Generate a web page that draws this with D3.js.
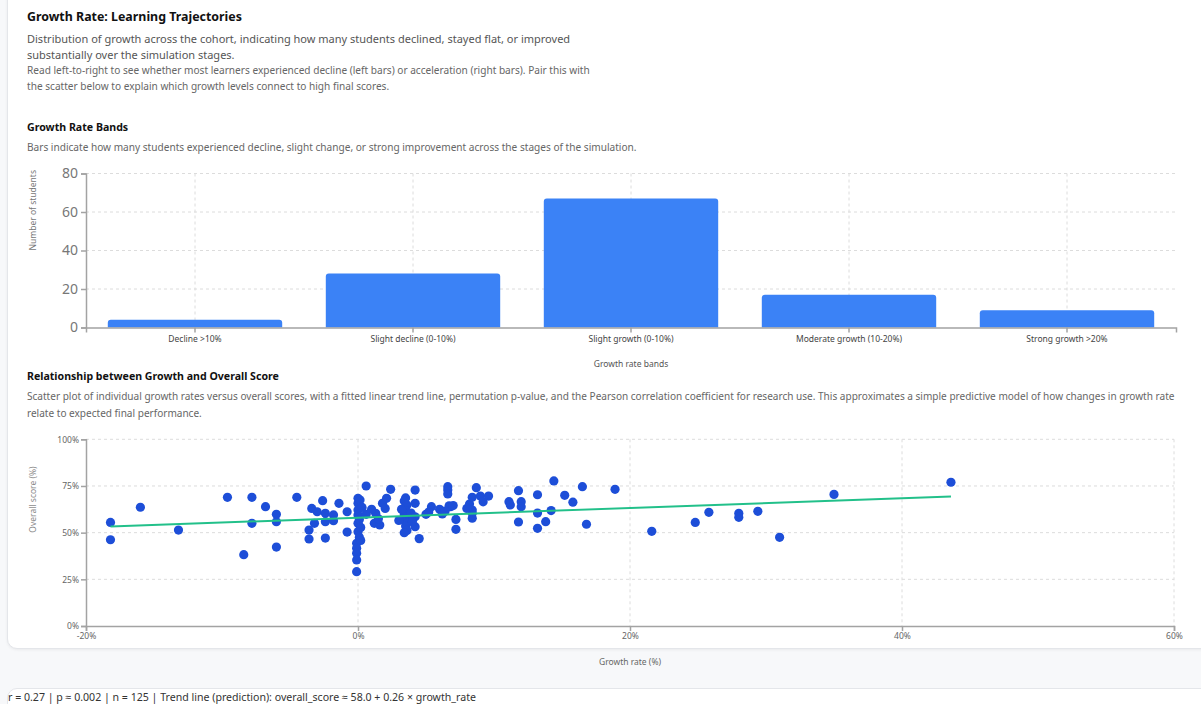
<!DOCTYPE html>
<html>
<head>
<meta charset="utf-8">
<script src="https://cdn.jsdelivr.net/npm/d3@7"></script>
<style>
  body { margin: 0; width: 1201px; height: 704px; overflow: hidden; background: #f7f8fa;
         font-family: "Noto Sans", sans-serif; position: relative; }
  #card  { position: absolute; left: 7px; top: -20px; width: 1230px; height: 667px; background: #fff;
           border: 1px solid #e4e6ea; border-radius: 10px; box-shadow: 0 1px 3px rgba(0,0,0,0.06); }
  #card2 { position: absolute; left: 7px; top: 688px; width: 1230px; height: 60px; background: #fff;
           border: 1px solid #e4e6ea; border-radius: 10px; }
  .txt   { position: absolute; left: 27px; white-space: nowrap; }
  #graf  { position: absolute; left: 0; top: 0; }
</style>
</head>
<body>
<div id="card"></div>
<div id="card2"></div>

<div class="txt" style="top:8px;font-size:12.4px;font-weight:bold;color:#111">Growth Rate: Learning Trajectories</div>
<div class="txt" style="top:31px;font-size:11px;color:#555;line-height:16px">Distribution of growth across the cohort, indicating how many students declined, stayed flat, or improved<br>substantially over the simulation stages.</div>
<div class="txt" style="top:63px;font-size:10.1px;color:#666;line-height:15.5px">Read left-to-right to see whether most learners experienced decline (left bars) or acceleration (right bars). Pair this with<br>the scatter below to explain which growth levels connect to high final scores.</div>

<div class="txt" style="top:120px;font-size:10.6px;font-weight:bold;color:#111">Growth Rate Bands</div>
<div class="txt" style="top:140px;font-size:10.1px;color:#666">Bars indicate how many students experienced decline, slight change, or strong improvement across the stages of the simulation.</div>

<div class="txt" style="top:369px;font-size:10.6px;font-weight:bold;color:#111">Relationship between Growth and Overall Score</div>
<div class="txt" style="top:388px;font-size:10.05px;color:#666;line-height:17px">Scatter plot of individual growth rates versus overall scores, with a fitted linear trend line, permutation p-value, and the Pearson correlation coefficient for research use. This approximates a simple predictive model of how changes in growth rate<br>relate to expected final performance.</div>

<div class="txt" style="left:8px;top:690px;font-size:10.6px;color:#333">r = 0.27 | p ≈ 0.002 | n = 125 | Trend line (prediction): overall_score ≈ 58.0 + 0.26 × growth_rate</div>

<svg id="graf" width="1201" height="704"></svg>

<script>
// DATOS
const bandNames  = ["Decline >10%", "Slight decline (0-10%)", "Slight growth (0-10%)", "Moderate growth (10-20%)", "Strong growth >20%"]
const bandCounts = [4, 28, 67, 17, 9]
const countTicks = [0, 20, 40, 60, 80]

// [growth rate %, overall score %]
const scatterPoints = [
  [-18.2,55.5],[-18.2,46.2],[-16.0,63.6],[-13.2,51.4],
  [-9.6,68.9],[-8.4,38.2],[-7.8,68.9],[-7.8,55.0],[-6.8,63.9],[-6.0,59.8],[-6.0,55.9],[-6.0,42.3],
  [-4.5,68.9],[-3.4,63.0],[-2.6,67.1],[-3.0,61.2],[-3.2,55.0],[-3.6,51.4],[-3.6,46.6],[-2.4,47.1],
  [-1.4,65.7],[-0.8,61.2],[-0.8,50.3],[-1.8,59.5],[-1.8,56.4],[-2.4,60.4],[-2.4,55.9],
  [-0.1,44.3],[-0.1,41.6],[-0.1,39.0],[-0.1,35.4],[-0.1,29.1],
  [0.0,68.4],[0.0,65.7],[0.0,62.1],[0.0,59.5],[0.0,55.0],[0.0,50.5],
  [0.15,67.5],[0.6,75.0],[0.6,59.8],[1.3,60.4],[1.2,55.0],[1.6,54.1],[1.8,65.7],[2.1,68.4],[2.4,73.2],
  [3.5,68.6],[3.4,67.0],[3.6,64.8],[3.5,61.8],[3.4,60.0],[3.6,58.5],[3.4,57.0],[3.6,55.0],[3.5,53.5],[3.6,51.2],[3.4,50.0],
  [4.2,72.8],[4.2,65.7],[4.2,58.5],[4.2,53.2],[4.5,46.8],
  [5.0,59.8],[5.4,63.9],[6.0,62.5],[6.2,60.0],[6.6,74.6],[6.6,72.8],[6.6,70.7],[6.7,64.4],[6.8,63.9],[7.2,57.1],[7.2,51.8],
  [8.2,65.3],[8.4,68.9],[8.4,62.1],[8.4,60.4],[8.4,57.7],[8.7,74.1],[9.0,69.6],[9.6,69.6],
  [0.1,57.0],[0.2,52.8],[0.1,47.5],[0.2,45.8],[0.3,63.5],[1.0,62.5],[1.5,57.5],[2.0,63.0],
  [3.0,56.5],[3.2,62.5],[3.9,60.5],[4.0,56.0],[5.2,61.0],[6.4,61.5],[7.0,64.5],[8.0,63.0],[9.2,66.5],
  [11.1,66.6],[11.2,64.8],[11.8,72.5],[12.0,66.6],[12.0,63.9],[11.8,55.7],[13.2,70.3],[13.2,60.5],[13.2,52.3],
  [13.8,55.9],[14.2,61.8],[14.4,77.7],[15.2,70.0],[15.8,66.3],[16.5,74.6],[16.8,54.5],[18.9,73.2],
  [21.6,50.7],[24.8,55.5],[25.8,60.9],[28.0,60.4],[28.0,58.2],[29.4,61.4],[31.0,47.5],[35.0,70.5],[43.6,77.0]
]
const growthTicks = [-20, 0, 20, 40, 60]
const scoreTicks  = [0, 25, 50, 75, 100]
const trendIntercept = 58.0
const trendSlope     = 0.26

svg = d3.select('#graf')

gridColor = '#dcdcdc'
axisColor = '#a3a3a3'

// I. BARRAS
bar = { left: 86, right: 1176, top: 173.5, bottom: 327.5 }

xB = d3.scaleBand().domain(bandNames).range([bar.left, bar.right])
       .paddingInner(0.2).paddingOuter(0.1)
yB = d3.scaleLinear().domain([0, 80]).range([bar.bottom, bar.top])

gB = svg.append('g')

gB.append('g').selectAll('line').data(countTicks.slice(1)).enter().append('line')
  .attr('x1', bar.left).attr('x2', bar.right)
  .attr('y1', d => yB(d)).attr('y2', d => yB(d))
  .attr('stroke', gridColor).attr('stroke-dasharray', '3,3')

gB.append('g').selectAll('line').data(bandNames).enter().append('line')
  .attr('x1', d => xB(d) + xB.bandwidth() / 2).attr('x2', d => xB(d) + xB.bandwidth() / 2)
  .attr('y1', bar.top).attr('y2', bar.bottom)
  .attr('stroke', gridColor).attr('stroke-dasharray', '3,3')

function topRounded(x, y, w, h, r) {
  r = Math.min(r, h, w / 2)
  return `M${x},${y + h}V${y + r}Q${x},${y} ${x + r},${y}H${x + w - r}Q${x + w},${y} ${x + w},${y + r}V${y + h}Z`
}

gB.append('g').selectAll('path').data(bandNames).enter().append('path')
  .attr('d', (d, i) => topRounded(xB(d), yB(bandCounts[i]), xB.bandwidth(), bar.bottom - yB(bandCounts[i]), 3))
  .attr('fill', '#3b82f6')

yAxisB = gB.append('g').attr('transform', `translate(${bar.left},0)`)
  .call(d3.axisLeft(yB).tickValues(countTicks).tickSize(5).tickPadding(3))
yAxisB.selectAll('text').style('font-size', '14px').attr('fill', '#777')

xAxisB = gB.append('g').attr('transform', `translate(0,${bar.bottom})`)
  .call(d3.axisBottom(xB).tickSize(5).tickPadding(3))
xAxisB.selectAll('text').style('font-size', '8.5px').attr('fill', '#444')

gB.selectAll('.domain, .tick line').attr('stroke', axisColor).attr('stroke-width', 1.5)

gB.append('text').attr('x', (bar.left + bar.right) / 2).attr('y', 367)
  .attr('text-anchor', 'middle').style('font-size', '8.5px').attr('fill', '#555')
  .text('Growth rate bands')

// etiqueta Y recortada arriba, como en el original
svg.append('clipPath').attr('id', 'clipB').append('rect')
  .attr('x', 0).attr('y', 164).attr('width', 80).attr('height', 200)
gB.append('g').attr('clip-path', 'url(#clipB)')
  .append('text')
  .attr('transform', 'rotate(-90)')
  .attr('x', -(bar.top + bar.bottom) / 2).attr('y', 36)
  .style('font-size', '8.5px').attr('fill', '#777')
  .text('Number of students')

// II. DISPERSION
sc = { left: 86, right: 1174, top: 439.3, bottom: 626 }

xS = d3.scaleLinear().domain([-20, 60]).range([sc.left, sc.right])
yS = d3.scaleLinear().domain([0, 100]).range([sc.bottom, sc.top])

gS = svg.append('g')

gS.append('g').selectAll('line').data(scoreTicks.slice(1)).enter().append('line')
  .attr('x1', sc.left).attr('x2', sc.right)
  .attr('y1', d => yS(d)).attr('y2', d => yS(d))
  .attr('stroke', gridColor).attr('stroke-dasharray', '3,3')

gS.append('g').selectAll('line').data(growthTicks.slice(1)).enter().append('line')
  .attr('x1', d => xS(d)).attr('x2', d => xS(d))
  .attr('y1', sc.top).attr('y2', sc.bottom)
  .attr('stroke', gridColor).attr('stroke-dasharray', '3,3')

yAxisS = gS.append('g').attr('transform', `translate(${sc.left},0)`)
  .call(d3.axisLeft(yS).tickValues(scoreTicks).tickFormat(d => d + '%').tickSize(5).tickPadding(2))
xAxisS = gS.append('g').attr('transform', `translate(0,${sc.bottom})`)
  .call(d3.axisBottom(xS).tickValues(growthTicks).tickFormat(d => d + '%').tickSize(5).tickPadding(2))
gS.selectAll('.tick text').style('font-size', '8.5px').attr('fill', '#666')
gS.selectAll('.domain, .tick line').attr('stroke', axisColor).attr('stroke-width', 1.5)

gS.append('g').selectAll('circle').data(scatterPoints).enter().append('circle')
  .attr('cx', d => xS(d[0])).attr('cy', d => yS(d[1])).attr('r', 4.6)
  .attr('fill', '#1d4ed8')

gMin = d3.min(scatterPoints, d => d[0])
gMax = d3.max(scatterPoints, d => d[0])
gS.append('line')
  .attr('x1', xS(gMin)).attr('y1', yS(trendIntercept + trendSlope * gMin))
  .attr('x2', xS(gMax)).attr('y2', yS(trendIntercept + trendSlope * gMax))
  .attr('stroke', '#22c08a').attr('stroke-width', 2)

gS.append('text').attr('x', (sc.left + sc.right) / 2).attr('y', 665)
  .attr('text-anchor', 'middle').style('font-size', '8.5px').attr('fill', '#666')
  .text('Growth rate (%)')

gS.append('text').attr('transform', 'rotate(-90)')
  .attr('x', -(sc.top + sc.bottom) / 2).attr('y', 36)
  .style('font-size', '8.5px').attr('fill', '#888')
  .text('Overall score (%)')

svg.selectAll('text').style('font-family', 'Noto Sans')
</script>
</body>
</html>
